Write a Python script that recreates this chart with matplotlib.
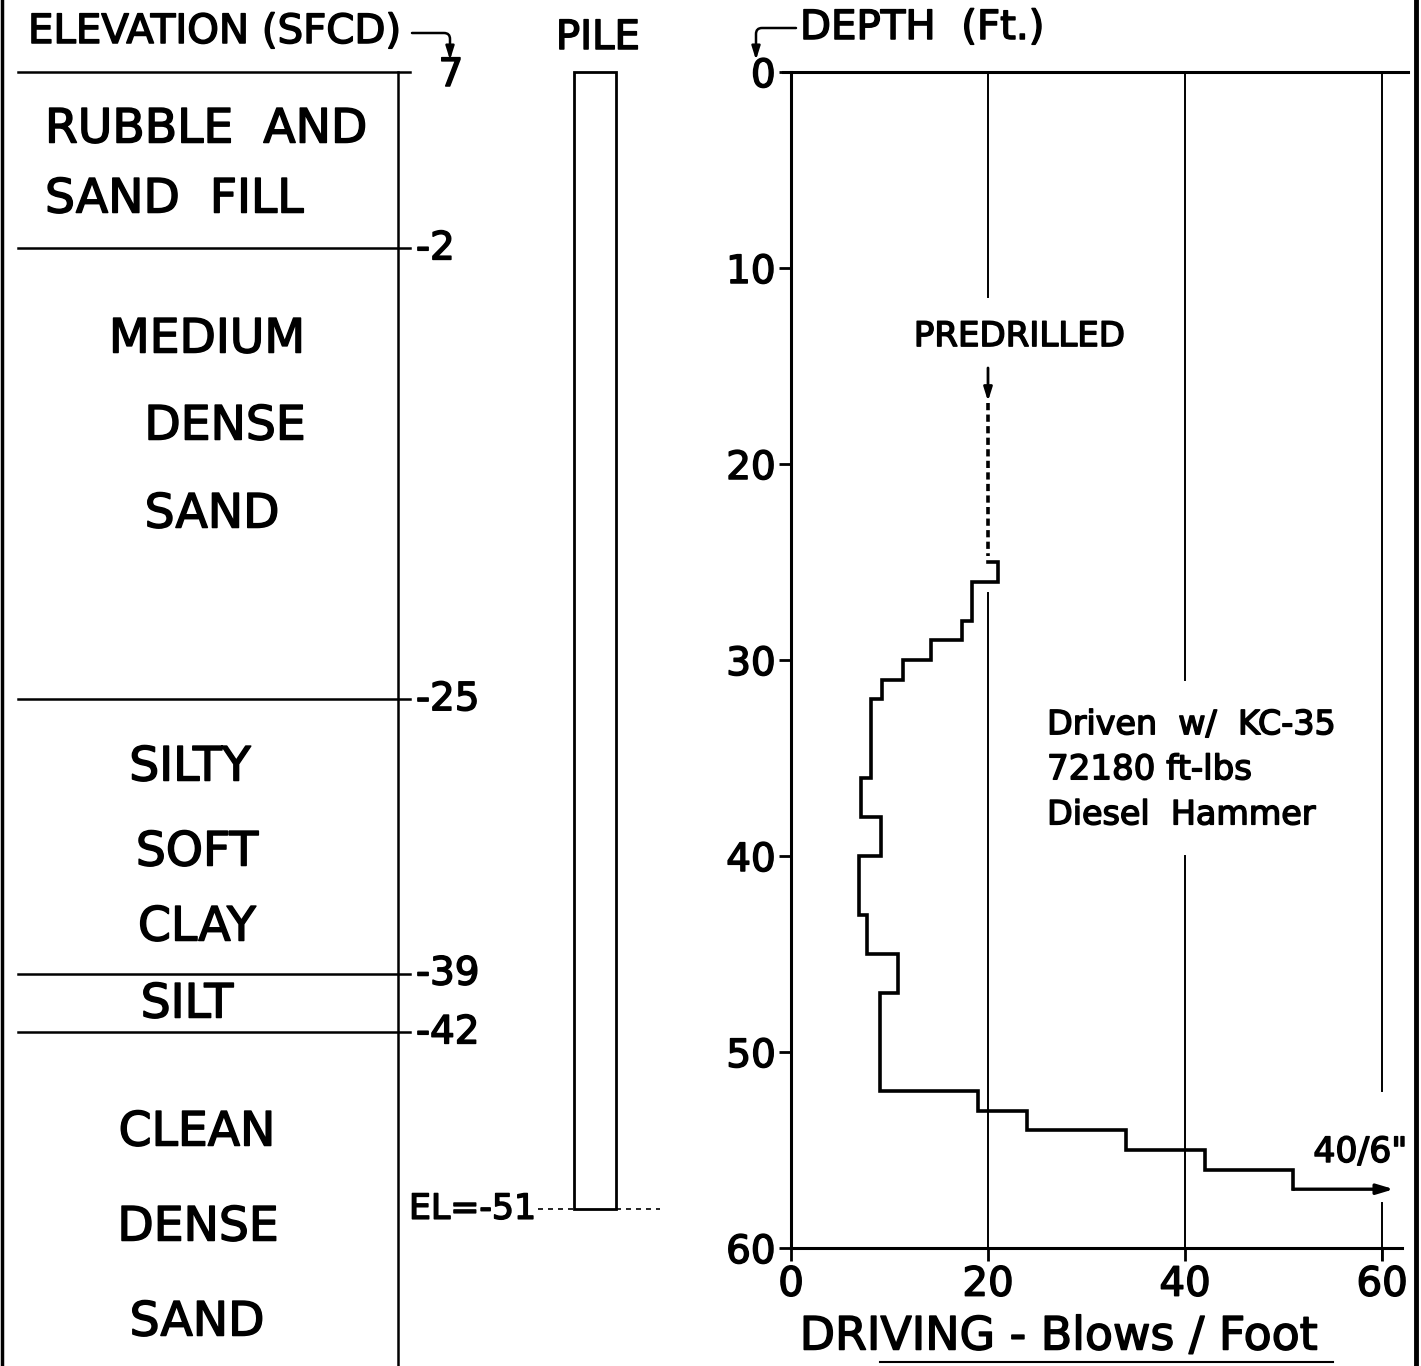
import matplotlib.pyplot as plt
import matplotlib.patheffects as pe
from matplotlib.text import Text
from matplotlib.patches import Rectangle

W, H = 1421, 1366

# soil profile, elevations in ft (SFCD)
top_elev = 7
layer_elev = [7, -2, -25, -39, -42]
layer_tick = ["7", "-2", "-25", "-39", "-42"]
soil_words = ["RUBBLE  AND", "SAND  FILL", "MEDIUM", "DENSE", "SAND",
              "SILTY", "SOFT", "CLAY", "SILT", "CLEAN", "DENSE", "SAND"]
pile_tip = -51

# driving record: depth at top of each 1-ft interval and blows per foot
interval_top = [25, 26, 28, 29, 30, 31, 32, 36, 38, 40, 43, 45, 47, 52, 53, 54, 55, 56]
blows = [21, 18.4, 17.4, 14.2, 11.4, 9.2, 8.1, 7.1, 9.1, 6.9, 7.7, 10.9, 9.0, 19, 24, 34, 42, 51]
last_depth = 57
refusal_blows = 61.2
predrill_x = 20
predrill_depth = 25

depth_ticks = [0, 10, 20, 30, 40, 50, 60]
blow_ticks = [0, 20, 40, 60]

# layout (pixels) of the driving plot
X0, X60 = 791, 1382
Y0, Y60 = 72, 1248
PX_FT = (Y60 - Y0) / 60.0


def elev_px(e):
    return Y0 + (top_elev - e) * PX_FT


plt.rcParams['font.family'] = ['DejaVu Sans']

fig = plt.figure(figsize=(W / 100, H / 100), dpi=100)
canvas = fig.add_axes([0, 0, 1, 1])
canvas.set_xlim(0, W)
canvas.set_ylim(H, 0)
canvas.axis('off')

# frame
canvas.plot([2, 2], [0, H], color='k', lw=2.5)
canvas.plot([1416, 1416], [0, H], color='k', lw=3.5)

# soil column
canvas.plot([398, 398], [elev_px(top_elev), H], color='k', lw=1.8)
for e, lab in zip(layer_elev, layer_tick):
    y = elev_px(e)
    canvas.plot([18, 410], [y, y], color='k', lw=1.8)
    if e == top_elev:
        canvas.text(451, y + 3, lab, fontsize=28, ha='center', va='center')
    else:
        canvas.text(416, y, lab, fontsize=28, ha='left', va='center')

word_pos = [(45, 130, 'left'), (45, 200, 'left'), (207, 340, 'center'),
            (225, 427, 'center'), (212, 515, 'center'), (190, 768, 'center'),
            (197, 853, 'center'), (197, 928, 'center'), (187, 1005, 'center'),
            (197, 1133, 'center'), (198, 1228, 'center'), (197, 1323, 'center')]
for w, (x, y, ha) in zip(soil_words, word_pos):
    canvas.text(x, y, w, fontsize=34, ha=ha, va='center')

canvas.text(28, 32, "ELEVATION (SFCD)", fontsize=29, ha='left', va='center')
canvas.annotate("", xy=(450, 60), xytext=(412, 33),
                arrowprops=dict(arrowstyle='-|>,head_length=0.8,head_width=0.25',
                                connectionstyle='angle,angleA=0,angleB=90,rad=6',
                                color='k', lw=1.8, shrinkA=0, shrinkB=0))

# pile
canvas.text(598, 38, "PILE", fontsize=29, ha='center', va='center')
ptop, pbot = elev_px(top_elev), elev_px(pile_tip)
canvas.add_patch(Rectangle((574, ptop), 42, pbot - ptop, fill=False, ec='k', lw=2))
canvas.text(536, pbot, "EL=-51", fontsize=25, ha='right', va='center')
canvas.plot([538, 574], [pbot, pbot], color='k', lw=1.2, ls=(0, (3, 3)))
canvas.plot([616, 660], [pbot, pbot], color='k', lw=1.2, ls=(0, (3, 3)))

# driving plot
ax = fig.add_axes([X0 / W, 1 - Y60 / H, (X60 - X0) / W, (Y60 - Y0) / H])
ax.patch.set_alpha(0)
ax.set_xlim(0, 60)
ax.set_ylim(60, 0)
for s in ['top', 'right']:
    ax.spines[s].set_visible(False)
for s in ['left', 'bottom']:
    ax.spines[s].set_linewidth(2.2)
ax.set_xticks(blow_ticks)
ax.set_yticks(depth_ticks)
ax.tick_params(axis='y', direction='out', length=9, width=2, labelsize=28, pad=2)
ax.tick_params(axis='x', direction='out', length=9, width=2, labelsize=29, pad=3)

ax.plot([-0.8, 62.6], [0, 0], color='k', lw=2.2, clip_on=False)
ax.plot([60, 62], [60, 60], color='k', lw=2.2, clip_on=False)

grid_spans = {20: [(0, 11.5), (26.6, 60)], 40: [(0, 31), (40, 60)],
              60: [(0, 52), (57.7, 60.6)]}
for gx, spans in grid_spans.items():
    for a, b in spans:
        ax.plot([gx, gx], [a, b], color='k', lw=1.4, clip_on=False)

xs, ys = [predrill_x], [predrill_depth]
for i, b in enumerate(blows):
    bottom = interval_top[i + 1] if i + 1 < len(interval_top) else last_depth
    xs += [b, b]
    ys += [interval_top[i], bottom]
ax.plot(xs, ys, color='k', lw=2.6, solid_joinstyle='miter')
ax.annotate("", xy=(refusal_blows, last_depth), xytext=(blows[-1], last_depth),
            arrowprops=dict(arrowstyle='-|>,head_length=1.0,head_width=0.3',
                            color='k', lw=2.4, shrinkA=0, shrinkB=0),
            annotation_clip=False)
ax.text(57.8, 55.1, '40/6"', fontsize=25, ha='center', va='center')

# predrilled section
ax.plot([predrill_x, predrill_x], [16.9, 24.7], color='k', lw=2.6, ls=(0, (2, 1.2)))
ax.annotate("", xy=(predrill_x, 16.8), xytext=(predrill_x, 15.1),
            arrowprops=dict(arrowstyle='-|>,head_length=0.8,head_width=0.25',
                            color='k', lw=2, shrinkA=0, shrinkB=0))
ax.text(23.2, 13.5, "PREDRILLED", fontsize=24.5, ha='center', va='center')

ax.text(26, 33.3, "Driven  w/  KC-35", fontsize=24, ha='left', va='center')
ax.text(26, 35.6, "72180 ft-lbs", fontsize=24.5, ha='left', va='center')
ax.text(26, 37.9, "Diesel  Hammer", fontsize=24, ha='left', va='center')

canvas.text(800, 28, "DEPTH  (Ft.)", fontsize=29, ha='left', va='center')
canvas.annotate("", xy=(756, 60), xytext=(796, 28),
                arrowprops=dict(arrowstyle='-|>,head_length=0.8,head_width=0.25',
                                connectionstyle='angle,angleA=180,angleB=90,rad=6',
                                color='k', lw=1.8, shrinkA=0, shrinkB=0))

canvas.text(1059, 1337, "DRIVING - Blows / Foot", fontsize=33, ha='center', va='center')
canvas.plot([880, 1333], [1362, 1362], color='k', lw=1.5)

# heavier lettering, like the hand-stencilled original
for t in fig.findobj(Text):
    t.set_path_effects([pe.withStroke(linewidth=1.1, foreground='k')])

fig.savefig('out.png', dpi=100)
